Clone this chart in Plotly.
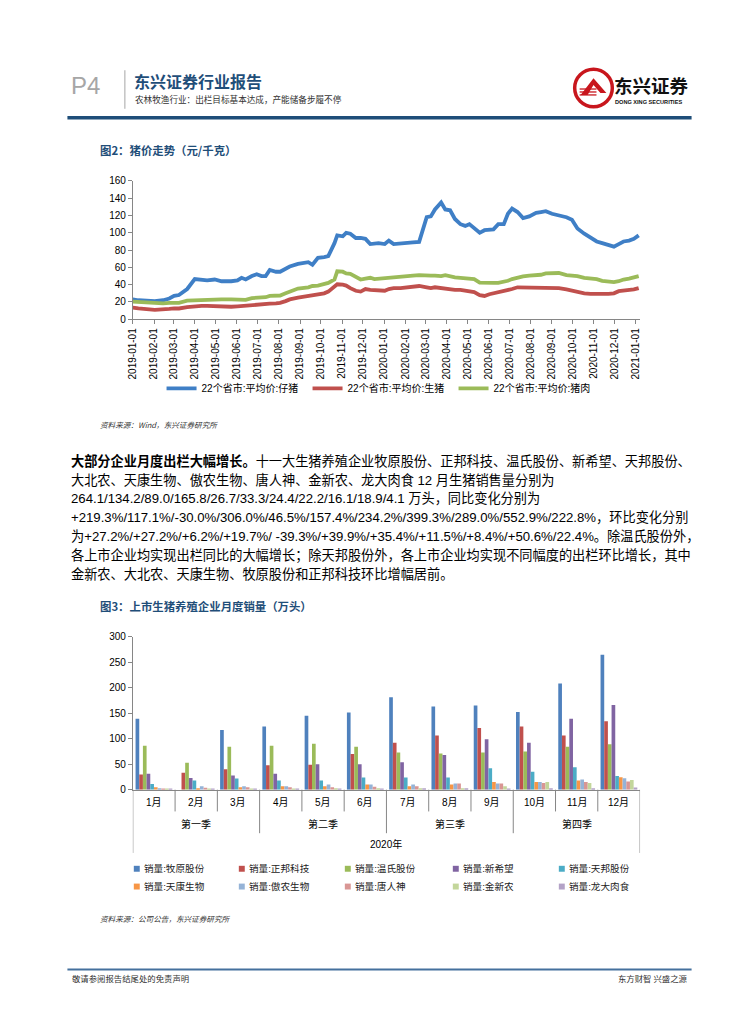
import plotly.graph_objects as go

W, H = 755, 1024
def px(x): return x / W
def py(y): return 1 - y / H

CJK = "Noto Sans CJK SC"
NUM = "Liberation Sans, Arial, Noto Sans CJK SC"
NAVY = "#1F4E79"
AXIS = "#868686"

# ---------------- Figure 2 data: pig prices (yuan/kg) ----------------
price_dates = [
    '2019-01-01', '2019-01-09', '2019-02-02', '2019-02-14', '2019-02-23', '2019-03-02', '2019-03-09', '2019-03-21',
    '2019-04-01', '2019-04-11', '2019-04-19', '2019-04-30', '2019-05-10', '2019-05-24', '2019-06-02', '2019-06-08',
    '2019-06-14', '2019-06-23', '2019-06-30', '2019-07-07', '2019-07-13', '2019-07-19', '2019-07-28', '2019-08-03',
    '2019-08-11', '2019-08-17', '2019-08-29', '2019-09-13', '2019-09-19', '2019-09-27', '2019-10-06', '2019-10-12',
    '2019-10-21', '2019-10-25', '2019-11-02', '2019-11-07', '2019-11-13', '2019-11-21', '2019-11-28', '2019-12-05',
    '2019-12-12', '2019-12-18', '2019-12-24',
    '2020-01-02', '2020-01-08', '2020-01-15', '2020-01-25', '2020-02-12', '2020-02-21', '2020-03-03', '2020-03-09',
    '2020-03-15', '2020-03-24', '2020-03-30', '2020-04-06', '2020-04-13', '2020-04-21', '2020-04-28', '2020-05-04',
    '2020-05-11', '2020-05-19', '2020-05-26', '2020-06-02', '2020-06-08', '2020-06-15', '2020-06-23', '2020-06-29',
    '2020-07-05', '2020-07-13', '2020-07-21', '2020-07-30', '2020-08-09', '2020-08-16', '2020-08-23', '2020-09-01',
    '2020-09-11', '2020-09-22', '2020-09-30', '2020-10-08', '2020-10-18', '2020-10-27', '2020-11-05', '2020-11-13',
    '2020-11-22', '2020-11-30', '2020-12-07', '2020-12-14', '2020-12-22', '2020-12-29', '2021-01-05']

piglet_price = [
    23, 22, 21, 22, 24, 27, 28, 35, 46.5, 45.5, 45, 46, 44, 44, 45, 48, 46, 50, 52, 50, 50, 57, 55, 55,
    58, 61, 64, 66, 63, 71, 72, 73, 88, 97, 96, 100, 99, 94, 94, 93, 87, 88, 88,
    87, 91, 87, 88, 89, 89.5, 118, 119, 127, 135, 127, 126, 116, 110, 108, 110, 105, 100, 103, 103,
    104, 110, 110, 122, 128, 124, 117, 119, 123, 124, 125, 122, 120, 118, 115, 105, 99, 95, 90, 88,
    86, 84, 87, 90, 91, 93, 97]

hog_price = [
    13.5, 12.5, 11, 11, 12, 12.5, 12.5, 14, 15, 15.5, 15.5, 15, 14.5, 14.5, 15, 15.5, 15.5, 16, 17, 17,
    17.5, 18, 18.5, 19, 21, 23, 25, 27, 27.5, 28.5, 30, 32, 37, 40.5, 40, 39, 36, 33, 32, 35, 34, 34, 33.5,
    33, 35, 36, 36, 37.5, 38.5, 37, 36, 37, 36, 35, 34, 34, 34, 33, 32, 31.5, 28, 27, 29, 30, 31, 33, 34,
    35, 37, 37, 37, 37, 37, 37, 37, 36, 34.5, 33, 32, 30, 29.5, 29, 29.5, 29.5, 30, 32.5, 33, 34, 34.5, 36]

pork_price = [
    20.5, 20, 18.5, 18.5, 19, 18.5, 19, 21.5, 22, 22, 22.5, 22.5, 23, 23, 23, 23.5, 22.5, 24.5, 25, 25,
    25.5, 27, 27, 27.5, 30, 32, 35.5, 37, 38.5, 39, 41, 42, 46, 55.5, 55, 53, 52.5, 49, 46, 47, 48, 46.5, 47,
    48, 48, 48, 49, 50.5, 51, 50, 50.5, 50.5, 50, 51, 49.5, 48.5, 48, 47.5, 47, 46.5, 42.5, 42, 42, 42, 42,
    43, 44.5, 46.5, 48.5, 49.5, 50.5, 50.5, 51.5, 53, 53.5, 53.5, 51, 50.5, 50, 48, 47.5, 46.5, 44.5, 43.5,
    43, 44, 46, 47, 48, 50]

price_names = ['22个省市:平均价:仔猪', '22个省市:平均价:生猪', '22个省市:平均价:猪肉']
price_colors = ['#3F7FC6', '#C0504D', '#9BBB59']

# ---------------- Figure 3 data: monthly sales (10k head) ----------------
months = ['1月', '2月', '3月', '4月', '5月', '6月', '7月', '8月', '9月', '10月', '11月', '12月']
quarters = ['第一季', '第二季', '第三季', '第四季']
year_label = '2020年'

sales_muyuan = [139, None, 117, 124, 145, 151, 181, 163, 165, 152, 208, 264.1]
sales_zhengbang = [30, 33, 40, 48, 49, 70, 92, 106, 121, 124, 106, 134.2]
sales_wens = [86, 53, 84, 86, 90, 84, 73, 71, 73, 75, 84, 89.0]
sales_xinxiwang = [31, 23, 28, 31, 50, 50, 54, 68, 99, 92, 139, 165.8]
sales_tianbang = [11, 18, 22, 18, 18, 24, 24, 24, 42, 35, 44, 26.7]
sales_tiankang = [5, 3, 5, 7, 7, 10, 7, 10, 15, 15, 18, 24.4]
sales_aonong = [3, 7, 7, 7, 10, 10, 10, 12, 12, 15, 20, 22.2]
sales_tangrenshen = [2, 4, 5, 5, 5, 6, 7, 12, 12, 13, 15, 16.1]
sales_jinxinnong = [1.5, 1.5, 1.5, 1.5, 3, 3, 3, 3, 7, 15, 13, 18.9]
sales_longda = [1.5, 1.5, 1.5, 1.5, 1.5, 1.5, 3, 3, 1.5, 3, 3, 4.1]

sales_names = ['销量:牧原股份', '销量:正邦科技', '销量:温氏股份', '销量:新希望', '销量:天邦股份',
               '销量:天康生物', '销量:傲农生物', '销量:唐人神', '销量:金新农', '销量:龙大肉食']
sales_series = [sales_muyuan, sales_zhengbang, sales_wens, sales_xinxiwang, sales_tianbang,
                sales_tiankang, sales_aonong, sales_tangrenshen, sales_jinxinnong, sales_longda]
sales_colors = ['#4F81BD', '#C0504D', '#9BBB59', '#8064A2', '#4BACC6',
                '#F79646', '#95B3D7', '#D99694', '#C3D69B', '#B3A2C7']

fig = go.Figure()

for name, vals, col in zip(price_names, [piglet_price, hog_price, pork_price], price_colors):
    fig.add_trace(go.Scatter(x=price_dates, y=vals, name=name, mode='lines',
                             line=dict(color=col, width=3.8), xaxis='x', yaxis='y',
                             legend='legend'))

for name, vals, col in zip(sales_names, sales_series, sales_colors):
    fig.add_trace(go.Bar(x=months, y=vals, name=name, marker=dict(color=col, line=dict(width=0)),
                         xaxis='x2', yaxis='y2', showlegend=False))

shapes = []
ann = []

def A(text, x, y, size, color='#000', family=CJK, xanchor='left', yanchor='middle', **kw):
    ann.append(dict(text=text, x=px(x), y=py(y), xref='paper', yref='paper', showarrow=False,
                    xanchor=xanchor, yanchor=yanchor, font=dict(size=size, color=color, family=family), **kw))

def line(x0, y0, x1, y1, color, width):
    shapes.append(dict(type='line', xref='paper', yref='paper', x0=px(x0), y0=py(y0), x1=px(x1), y1=py(y1),
                       line=dict(color=color, width=width)))

def poly(points, fill):
    d = 'M ' + ' L '.join(f'{px(x):.5f},{py(y):.5f}' for x, y in points) + ' Z'
    shapes.append(dict(type='path', xref='paper', yref='paper', path=d, fillcolor=fill, line=dict(width=0)))

# ---------------- header ----------------
A('P4', 64, 80, 24, color='#A6A6A6', family='Liberation Sans Narrow, Liberation Sans, Arial')
line(120, 65, 120, 104, '#A6A6A6', 1)
A('<b>东兴证券行业报告</b>', 128, 76, 16, color=NAVY, borderpad=0)
A('农林牧渔行业：出栏目标基本达成，产能储备步履不停', 129, 94, 8.6, color='#333333', borderpad=0)
# logo
shapes.append(dict(type='circle', xref='paper', yref='paper', x0=px(574), x1=px(612), y0=py(102), y1=py(64),
                   line=dict(color='#C8161D', width=3.5), fillcolor='white'))
poly([(580, 90), (593, 73), (606, 88), (600, 88), (593, 80), (587, 90)], '#C8161D')
for yy in (84, 87, 90):
    line(579, yy, 596, yy, '#C8161D', 1.3)
A('<b>东兴证券</b>', 612, 80, 18.5, color='#111111')
A('<b>DONG XING SECURITIES</b>', 613, 97, 5.6, color='#111111', family='Liberation Sans Narrow, Liberation Sans, Arial')
line(62, 113, 692, 113, '#1F4E79', 3.5)

# ---------------- figure 2 ----------------
A('<b>图2：猪价走势（元/千克）</b>', 93, 146, 11.4, color=NAVY)
A('<i>资料来源：Wind，东兴证券研究所</i>', 93, 423, 7.6, color='#333333')

# ---------------- paragraph ----------------
para = [
    '<b>大部分企业月度出栏大幅增长。</b>十一大生猪养殖企业牧原股份、正邦科技、温氏股份、新希望、天邦股份、',
    '大北农、天康生物、傲农生物、唐人神、金新农、龙大肉食 12 月生猪销售量分别为',
    '264.1/134.2/89.0/165.8/26.7/33.3/24.4/22.2/16.1/18.9/4.1 万头，同比变化分别为',
    '+219.3%/117.1%/-30.0%/306.0%/46.5%/157.4%/234.2%/399.3%/289.0%/552.9%/222.8%，环比变化分别',
    '为+27.2%/+27.2%/+6.2%/+19.7%/ -39.3%/+39.9%/+35.4%/+11.5%/+8.4%/+50.6%/22.4%。除温氏股份外，',
    '各上市企业均实现出栏同比的大幅增长；除天邦股份外，各上市企业均实现不同幅度的出栏环比增长，其中',
    '金新农、大北农、天康生物、牧原股份和正邦科技环比增幅居前。',
]
for i, t in enumerate(para):
    A(t, 65, 460 + 19.2 * i, 13.2, family=NUM, borderpad=0)

# ---------------- figure 3 ----------------
A('<b>图3：上市生猪养殖企业月度销量（万头）</b>', 93, 607, 11.4, color=NAVY)

# category axis labels and dividers (drawn on x2 category scale)
for m in months:
    ann.append(dict(text=m, x=m, xref='x2', y=py(806), yref='paper', showarrow=False,
                    xanchor='center', yanchor='middle', font=dict(size=10, family=NUM, color='#000')))
for qi, q in enumerate(quarters):
    ann.append(dict(text=q, x=qi * 3 + 1, xref='x2', y=py(828), yref='paper', showarrow=False,
                    xanchor='center', yanchor='middle', font=dict(size=10, family=NUM, color='#000')))
ann.append(dict(text=year_label, x=5.5, xref='x2', y=py(848), yref='paper', showarrow=False,
                xanchor='center', yanchor='middle', font=dict(size=10, family=NUM, color='#000')))
for b in range(13):
    if b in (0, 12):
        yb = 857
    elif b % 3 == 0:
        yb = 837
    else:
        yb = 815
    shapes.append(dict(type='line', xref='x2', yref='paper', x0=b - 0.5, x1=b - 0.5,
                       y0=py(793), y1=py(yb), line=dict(color=AXIS, width=1)))

# manual legend for bars
leg_x = [129, 235, 342, 451, 558]
leg_y = [873, 891]
for k, (name, col) in enumerate(zip(sales_names, sales_colors)):
    r, c = divmod(k, 5)
    x0, y0 = leg_x[c], leg_y[r]
    shapes.append(dict(type='rect', xref='paper', yref='paper', x0=px(x0), x1=px(x0 + 6),
                       y0=py(y0 + 3), y1=py(y0 - 3), fillcolor=col, line=dict(width=0)))
    A(name, x0 + 8, y0, 9.6, color='#222222', family=NUM)

A('<i>资料来源：公司公告，东兴证券研究所</i>', 93, 923, 7.6, color='#333333')

# ---------------- footer ----------------
line(62, 975, 692, 975, '#44709D', 2)
A('敬请参阅报告结尾处的免责声明', 65, 984, 8.4, color='#333333')
A('东方财智 兴盛之源', 690, 984, 8.4, color='#333333', xanchor='right')

axis_common = dict(showline=True, linecolor=AXIS, linewidth=1, showgrid=False, zeroline=False,
                   tickfont=dict(size=10, family=NUM, color='#000'))

fig.update_layout(
    width=W, height=H, margin=dict(l=0, r=0, t=0, b=0),
    paper_bgcolor='white', plot_bgcolor='white',
    barmode='group', bargap=0.13, bargroupgap=0,
    xaxis=dict(type='date', domain=[px(128), px(640)], anchor='y',
               range=['2019-01-01', '2021-01-07'], tick0='2019-01-01', dtick='M1',
               tickformat='%Y-%m-%d', tickangle=-90, ticks='outside', ticklen=4, tickcolor=AXIS,
               **axis_common),
    yaxis=dict(domain=[py(317), py(177)], anchor='x', range=[0, 160], dtick=20,
               ticks='outside', ticklen=4, tickcolor=AXIS, **axis_common),
    xaxis2=dict(type='category', domain=[px(128), px(640)], anchor='y2', range=[-0.5, 11.5],
                showticklabels=False, ticks='', **axis_common),
    yaxis2=dict(domain=[py(793), py(638)], anchor='x2', range=[0, 300], dtick=50,
                ticks='outside', ticklen=4, tickcolor=AXIS, **axis_common),
    legend=dict(orientation='h', x=px(157), y=py(387), xanchor='left', yanchor='middle',
                font=dict(size=10, family=NUM, color='#000'), entrywidth=101, entrywidthmode='pixels',
                itemwidth=30, bgcolor='rgba(0,0,0,0)', traceorder='normal'),
    showlegend=True,
    shapes=shapes, annotations=ann,
)

fig.write_html('out.html', config={'displayModeBar': False},
               post_script="document.body.style.margin='0';document.body.style.overflow='hidden';")
